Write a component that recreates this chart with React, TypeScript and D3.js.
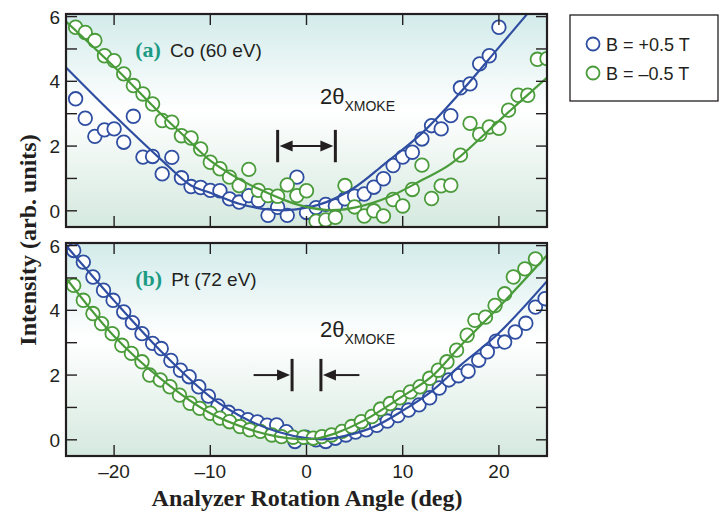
import React, { useRef, useEffect } from 'react';
import * as d3 from 'd3';

// axis ticks
const angleTicks = [-20, -10, 0, 10, 20];
const angleTickLabels = ['–20', '–10', '0', '10', '20'];
const intensityTicks = [0, 2, 4, 6];
const intensityMinorTicks = [0, 1, 2, 3, 4, 5, 6];

const seriesNames = ['B = +0.5 T', 'B = –0.5 T'];

// (a) Co (60 eV) measured points
const coPlusX = [-24, -23, -22, -21, -20, -19, -18, -17, -16, -15, -14, -13, -12, -11, -10, -9, -8, -7, -6, -5, -4, -3, -2, -1, 0, 1, 2, 3, 4, 5, 6, 7, 8, 9, 10, 11, 12, 13, 14, 15, 16, 17, 18, 19, 20];
const coPlusY = [3.46, 2.86, 2.30, 2.50, 2.53, 2.12, 2.92, 1.66, 1.68, 1.14, 1.65, 1.02, 0.75, 0.72, 0.63, 0.62, 0.37, 0.27, 0.47, 0.32, -0.14, 0.11, -0.14, 1.04, -0.05, 0.1, 0.2, 0.15, 0.37, 0.45, 0.52, 0.73, 0.99, 1.40, 1.66, 1.81, 2.22, 2.63, 2.53, 2.94, 3.80, 3.92, 4.54, 4.79, 5.67];
const coMinusX = [-24, -23, -22, -21, -20, -19, -18, -17, -16, -15, -14, -13, -12, -11, -10, -9, -8, -7, -6, -5, -4, -3, -2, -1, 0, 1, 2, 3, 4, 5, 6, 7, 8, 9, 10, 11, 12, 13, 14, 15, 16, 17, 18, 19, 20, 21, 22, 23, 24, 25];
const coMinusY = [5.67, 5.51, 5.26, 4.79, 4.64, 4.23, 3.87, 3.61, 3.30, 2.79, 2.74, 2.32, 2.25, 1.91, 1.50, 1.30, 1.04, 0.78, 1.28, 0.63, 0.47, 0.45, 0.80, 0.47, 0.62, -0.32, -0.28, -0.2, 0.78, 0.12, -0.16, 0.0, -0.16, 0.35, 0.15, 0.66, 1.41, 0.38, 0.77, 0.79, 1.72, 2.70, 2.36, 2.59, 2.55, 3.11, 3.57, 3.57, 4.68, 4.70];
// (a) fitted curves
const coPlusFitX = [-25, -20, -15, -12, -10, -7, -4, -2, 0, 2, 5, 8, 12, 16, 20, 23, 25];
const coPlusFitY = [4.43, 2.95, 1.55, 0.78, 0.56, 0.22, 0.04, 0.02, 0.1, 0.26, 0.72, 1.42, 2.4, 3.66, 5.05, 6.1, 6.8];
const coMinusFitX = [-25, -20, -15, -12.5, -10, -7, -5, -2, 0, 2.5, 5, 8.5, 12, 15, 20, 25];
const coMinusFitY = [5.85, 4.45, 2.95, 2.25, 1.55, 0.98, 0.68, 0.3, 0.12, 0.02, 0.1, 0.42, 0.95, 1.45, 2.78, 4.12];

// (b) Pt (72 eV) measured points
const ptPlusX = [-24.2, -23.2, -22.2, -21.1, -20.1, -19.0, -18.1, -17.1, -16.0, -15.1, -14.1, -13.1, -12.2, -11.2, -10.2, -9.2, -8.1, -7.1, -6.1, -5.1, -4.1, -3.1, -2.1, -1.2, -0.1, 1.0, 2.0, 3.0, 4.1, 5.1, 6.2, 7.3, 8.4, 9.5, 10.6, 11.7, 12.8, 13.8, 14.8, 15.8, 16.8, 17.9, 18.8, 19.7, 20.6, 21.7, 22.8, 23.8, 24.8];
const ptPlusY = [5.85, 5.49, 5.03, 4.62, 4.31, 3.95, 3.62, 3.28, 2.98, 2.82, 2.45, 2.15, 1.95, 1.64, 1.35, 1.05, 0.85, 0.72, 0.62, 0.55, 0.45, 0.46, 0.25, -0.05, 0.08, 0.0, -0.05, 0.05, 0.15, 0.24, 0.31, 0.45, 0.58, 0.75, 0.92, 1.08, 1.3, 1.6, 1.85, 1.98, 2.12, 2.46, 2.72, 3.05, 3.02, 3.33, 3.6, 4.1, 4.36];
const ptMinusX = [-24.2, -23.2, -22.2, -21.3, -20.2, -19.2, -18.2, -17.1, -16.3, -15.2, -14.2, -13.2, -12.1, -11.1, -10.0, -9.0, -8.0, -6.9, -5.9, -4.8, -3.6, -2.6, -1.4, -0.3, 0.7, 1.6, 2.6, 3.7, 4.7, 5.7, 6.8, 7.7, 8.7, 9.7, 10.8, 11.8, 12.8, 13.7, 14.6, 15.6, 16.7, 17.5, 18.6, 19.6, 20.6, 21.5, 22.7, 23.8];
const ptMinusY = [4.77, 4.31, 3.90, 3.59, 3.28, 2.92, 2.67, 2.41, 2.0, 1.85, 1.64, 1.38, 1.13, 0.97, 0.82, 0.67, 0.56, 0.41, 0.31, 0.26, 0.15, 0.1, 0.08, 0.08, 0.05, 0.1, 0.15, 0.26, 0.41, 0.56, 0.72, 0.95, 1.12, 1.3, 1.48, 1.64, 1.9, 2.15, 2.41, 2.77, 3.23, 3.69, 3.79, 4.15, 4.51, 5.03, 5.28, 5.59];
// (b) fitted curves
const ptPlusFitX = [-25, -20, -15, -10, -6, -3, 0, 2, 4, 7, 10, 13, 16, 20, 25];
const ptPlusFitY = [6.0, 4.3, 2.7, 1.33, 0.6, 0.25, 0.05, 0.02, 0.12, 0.4, 0.9, 1.5, 2.3, 3.3, 4.9];
const ptMinusFitX = [-25, -20, -15, -10, -6, -3, -1, 1, 3, 6, 10, 13, 16, 20, 25];
const ptMinusFitY = [5.0, 3.2, 1.85, 0.82, 0.33, 0.1, 0.03, 0.04, 0.2, 0.6, 1.35, 1.95, 2.9, 4.1, 5.7];

// 2θ_XMOKE markers (half splitting, deg)
const coHalfSplit = 3;
const ptHalfSplit = 1.5;

const BLUE = '#2f4ea1';
const GREEN = '#4a9b3a';
const INK = '#231f20';
const TEAL = '#1c9a84';
const SANS = '"Liberation Sans", Arial, Helvetica, sans-serif';
const SERIF = '"Liberation Serif", "Times New Roman", serif';

const zip = (xs: number[], ys: number[]) => xs.map((x, i) => [x, ys[i]] as [number, number]);

const panels = [
  {
    id: 'a', top: 14, bottom: 227, tag: '(a)', element: 'Co (60 eV)',
    plus: zip(coPlusX, coPlusY), minus: zip(coMinusX, coMinusY),
    plusFit: zip(coPlusFitX, coPlusFitY), minusFit: zip(coMinusFitX, coMinusFitY),
    half: coHalfSplit, inward: false, labelY: 3.3, showX: false,
  },
  {
    id: 'b', top: 243, bottom: 456, tag: '(b)', element: 'Pt (72 eV)',
    plus: zip(ptPlusX, ptPlusY), minus: zip(ptMinusX, ptMinusY),
    plusFit: zip(ptPlusFitX, ptPlusFitY), minusFit: zip(ptMinusFitX, ptMinusFitY),
    half: ptHalfSplit, inward: true, labelY: 3.18, showX: true,
  },
];

const App = () => {
  const svgRef = useRef<SVGSVGElement>(null);

  useEffect(() => {
    const svg = d3.select(svgRef.current);
    svg.selectAll('*').remove();

    const left = 66, right = 547;
    const x = d3.scaleLinear().domain([-25, 25]).range([left, right]);

    const defs = svg.append('defs');
    const grad = defs.append('linearGradient')
      .attr('id', 'bg').attr('x1', 0).attr('x2', 0).attr('y1', 0).attr('y2', 1);
    grad.append('stop').attr('offset', '0%').attr('stop-color', '#d2ebea');
    grad.append('stop').attr('offset', '45%').attr('stop-color', '#ffffff');
    grad.append('stop').attr('offset', '100%').attr('stop-color', '#d5e9df');

    panels.forEach(p => {
      const y = d3.scaleLinear().domain([-0.5, 6.08]).range([p.bottom, p.top]);
      const g = svg.append('g');

      defs.append('clipPath').attr('id', 'clip-' + p.id)
        .append('rect').attr('x', left).attr('y', p.top)
        .attr('width', right - left).attr('height', p.bottom - p.top);

      g.append('rect')
        .attr('x', left).attr('y', p.top)
        .attr('width', right - left).attr('height', p.bottom - p.top)
        .attr('fill', 'url(#bg)');

      const plot = g.append('g').attr('clip-path', `url(#clip-${p.id})`);

      const line = d3.line<[number, number]>()
        .x(d => x(d[0])).y(d => y(d[1]))
        .curve(d3.curveCatmullRom.alpha(0.5));

      const drawDots = (data: [number, number][], color: string) => {
        plot.append('g').selectAll('circle')
          .data(data).enter().append('circle')
          .attr('cx', d => x(d[0])).attr('cy', d => y(d[1]))
          .attr('r', 6.8)
          .attr('fill', '#fff')
          .attr('stroke', color).attr('stroke-width', 1.8);
      };
      drawDots(p.plus, BLUE);
      drawDots(p.minus, GREEN);
      plot.append('path').datum(p.plusFit).attr('d', line)
        .attr('fill', 'none').attr('stroke', BLUE).attr('stroke-width', 2.2);
      plot.append('path').datum(p.minusFit).attr('d', line)
        .attr('fill', 'none').attr('stroke', GREEN).attr('stroke-width', 2.2);

      // ticks on all four sides, pointing in
      const tk = 11;
      intensityMinorTicks.forEach(v => {
        g.append('line').attr('x1', left).attr('x2', left + tk)
          .attr('y1', y(v)).attr('y2', y(v)).attr('stroke', INK).attr('stroke-width', 1.4);
        g.append('line').attr('x1', right).attr('x2', right - tk)
          .attr('y1', y(v)).attr('y2', y(v)).attr('stroke', INK).attr('stroke-width', 1.4);
      });
      angleTicks.forEach(v => {
        g.append('line').attr('x1', x(v)).attr('x2', x(v))
          .attr('y1', p.top).attr('y2', p.top + tk).attr('stroke', INK).attr('stroke-width', 1.4);
        g.append('line').attr('x1', x(v)).attr('x2', x(v))
          .attr('y1', p.bottom).attr('y2', p.bottom - tk).attr('stroke', INK).attr('stroke-width', 1.4);
      });

      g.append('rect')
        .attr('x', left).attr('y', p.top)
        .attr('width', right - left).attr('height', p.bottom - p.top)
        .attr('fill', 'none').attr('stroke', INK).attr('stroke-width', 2.2);

      g.selectAll('.ylab').data(intensityTicks).enter().append('text')
        .attr('x', left - 6).attr('y', d => y(d) + 7)
        .attr('text-anchor', 'end')
        .attr('font-family', SANS).attr('font-size', 19).attr('fill', INK)
        .text(d => String(d));

      if (p.showX) {
        g.selectAll('.xlab').data(angleTicks).enter().append('text')
          .attr('x', d => x(d)).attr('y', p.bottom + 22)
          .attr('text-anchor', 'middle')
          .attr('font-family', SANS).attr('font-size', 19).attr('fill', INK)
          .text((d, i) => angleTickLabels[i]);
      }

      // panel tag
      const tag = g.append('text').attr('x', x(-17.8)).attr('y', p.top + 43);
      tag.append('tspan').attr('font-family', SERIF).attr('font-weight', 'bold')
        .attr('font-size', 22).attr('fill', TEAL).text(p.tag);
      tag.append('tspan').attr('dx', 9).attr('font-family', SANS)
        .attr('font-size', 19).attr('fill', INK).text(p.element);

      // 2θ XMOKE annotation
      const lab = g.append('text').attr('x', x(1.4)).attr('y', y(p.labelY))
        .attr('font-family', SANS).attr('fill', INK);
      lab.append('tspan').attr('font-size', 22).text('2θ');
      lab.append('tspan').attr('font-size', 14).attr('dy', 7).text('XMOKE');

      const yTop = y(2.5), yBot = y(1.5), yMid = y(2.0);
      [-p.half, p.half].forEach(v => {
        g.append('line').attr('x1', x(v)).attr('x2', x(v))
          .attr('y1', yTop).attr('y2', yBot)
          .attr('stroke', INK).attr('stroke-width', 3);
      });
      const head = (tipX: number, dir: number) => {
        g.append('path')
          .attr('d', `M${tipX},${yMid} L${tipX - dir * 13},${yMid - 5.5} L${tipX - dir * 13},${yMid + 5.5} Z`)
          .attr('fill', INK);
      };
      if (!p.inward) {
        const a = x(-p.half) + 2, b = x(p.half) - 2;
        g.append('line').attr('x1', a + 8).attr('x2', b - 8).attr('y1', yMid).attr('y2', yMid)
          .attr('stroke', INK).attr('stroke-width', 2);
        head(a, -1);
        head(b, 1);
      } else {
        const a = x(-p.half) - 2, b = x(p.half) + 2;
        g.append('line').attr('x1', x(-5.5)).attr('x2', a - 8).attr('y1', yMid).attr('y2', yMid)
          .attr('stroke', INK).attr('stroke-width', 2);
        g.append('line').attr('x1', x(5.5)).attr('x2', b + 8).attr('y1', yMid).attr('y2', yMid)
          .attr('stroke', INK).attr('stroke-width', 2);
        head(a, 1);
        head(b, -1);
      }
    });

    // axis titles
    svg.append('text')
      .attr('transform', 'translate(36,240) rotate(-90)')
      .attr('text-anchor', 'middle')
      .attr('font-family', SERIF).attr('font-weight', 'bold').attr('font-size', 24)
      .attr('fill', INK)
      .text('Intensity (arb. units)');
    svg.append('text')
      .attr('x', 307).attr('y', 506)
      .attr('text-anchor', 'middle')
      .attr('font-family', SERIF).attr('font-weight', 'bold').attr('font-size', 24)
      .attr('fill', INK)
      .text('Analyzer Rotation Angle (deg)');

    // legend
    const lg = svg.append('g');
    lg.append('rect').attr('x', 570).attr('y', 15).attr('width', 148).attr('height', 86)
      .attr('fill', '#fff').attr('stroke', INK).attr('stroke-width', 1.3);
    [BLUE, GREEN].forEach((c, i) => {
      lg.append('circle').attr('cx', 593).attr('cy', 44 + i * 29).attr('r', 6.5)
        .attr('fill', '#fff').attr('stroke', c).attr('stroke-width', 1.8);
      lg.append('text').attr('x', 606).attr('y', 50.5 + i * 29)
        .attr('font-family', SANS).attr('font-size', 18).attr('fill', INK)
        .text(seriesNames[i]);
    });
  }, []);

  return (
    <svg ref={svgRef} width={720} height={518}
      style={{ position: 'absolute', left: 0, top: 0, background: '#fff' }} />
  );
};

export default App;
